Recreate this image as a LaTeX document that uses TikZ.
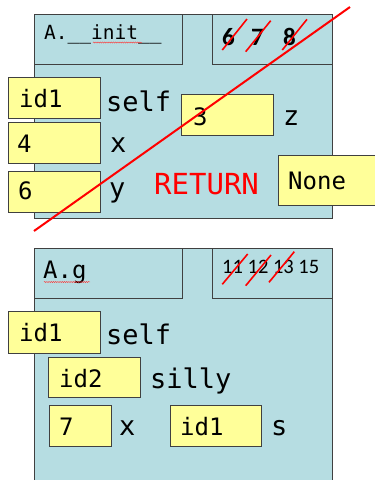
\documentclass[tikz,border=0pt]{standalone}
\usepackage{fontspec}
\newfontfamily\monofont{DejaVu Sans Mono}
\newfontfamily\calfont{Carlito}
\usetikzlibrary{decorations.pathmorphing}
\definecolor{frameblue}{RGB}{182,221,226}
\definecolor{boxyellow}{RGB}{255,255,153}
\definecolor{framegray}{RGB}{64,64,64}
\tikzset{
  frame/.style={draw=framegray, fill=frameblue, line width=0.8pt, inner sep=0pt, anchor=north west},
  valbox/.style={draw=framegray, fill=boxyellow, line width=0.8pt, inner sep=0pt,
                 minimum height=41pt, anchor=north west},
  lbl/.style={anchor=base west, inner sep=0pt, font=\monofont\fontsize{27}{30}\selectfont},
  val/.style={anchor=base west, inner sep=0pt, font=\monofont\fontsize{24}{28}\selectfont},
  strike/.style={draw=red, line width=1.6pt},
  squiggle/.style={draw=red!80, line width=0.4pt,
                   decorate, decoration={snake, amplitude=0.6pt, segment length=2.2pt}}
}
\begin{document}
\begin{tikzpicture}[x=1pt, y=-1pt]
\useasboundingbox (0,0) rectangle (375,480);

% ---------- frame of A.__init__ ----------
\node[frame, minimum width=298pt, minimum height=204pt] (f1) at (34,14) {};
\node[frame, minimum width=148pt, minimum height=50pt] (f1name) at (34,14) {};
\node[frame, minimum width=120pt, minimum height=50pt] (f1lines) at (212,14) {};
\node[anchor=base west, inner sep=0pt, font=\monofont\fontsize{19.5}{22}\selectfont] (f1title) at (44,39) {A.\_\_init\_\_};
\draw[squiggle] (93,42.5) -- (142,42.5);

\node[anchor=base west, inner sep=0pt, font=\calfont\bfseries\fontsize{25}{28}\selectfont] (n6) at (222,45) {6};
\node[anchor=base west, inner sep=0pt, font=\calfont\bfseries\fontsize{25}{28}\selectfont] (n7) at (251,45) {7};
\node[anchor=base west, inner sep=0pt, font=\calfont\bfseries\fontsize{25}{28}\selectfont] (n8) at (283,45) {8};
\draw[strike] (222.3,50) -- (247,19);
\draw[strike] (245.7,51.7) -- (270.7,20.7);
\draw[strike] (282.3,50) -- (307,19.3);

% values and names
\node[valbox, minimum width=92pt] (b1) at (8,77) {};
\node[val] (b1t) at (19,107) {id1};
\node[lbl] (l1) at (106,111) {self};

\node[valbox, minimum width=92pt] (b2) at (8,122) {};
\node[val] (b2t) at (17,152) {4};
\node[lbl] (l2) at (110,152) {x};

\node[valbox, minimum width=92pt] (b3) at (8,171) {};
\node[val] (b3t) at (18,199) {6};
\node[lbl] (l3) at (109,197) {y};

\node[valbox, minimum width=92pt] (b4) at (181,94) {};
\node[val] (b4t) at (193,125) {3};
\node[lbl] (l4) at (283,125) {z};

\node[lbl, text=red, font=\monofont\fontsize{29}{32}\selectfont] (ret) at (154,194) {RETURN};
\node[valbox, minimum width=100pt, minimum height=50pt] (b5) at (278,155) {};
\node[val] (b5t) at (288,189) {None};

% the whole frame is crossed out
\draw[red, line width=2pt] (34,231) -- (350,7);

% ---------- frame of A.g ----------
\node[frame, minimum width=298pt, minimum height=245pt] (f2) at (34,248) {};
\node[frame, minimum width=148pt, minimum height=50pt] (f2name) at (34,248) {};
\node[frame, minimum width=120pt, minimum height=50pt] (f2lines) at (212,248) {};
\node[anchor=base west, inner sep=0pt, font=\monofont\fontsize{24}{28}\selectfont] (f2title) at (43,278) {A.g};
\draw[squiggle] (44,282) -- (90,282);

\node[anchor=base west, inner sep=0pt, font=\calfont\fontsize{20.5}{24}\selectfont] (lines2) at (222,273) {11 12 13 15};
\draw[strike] (222.3,284.3) -- (247.7,254);
\draw[strike] (245.7,285.7) -- (271,255);
\draw[strike] (269,282.3) -- (294.3,251.7);

\node[valbox, minimum width=92pt, minimum height=42pt] (c1) at (8,311) {};
\node[val] (c1t) at (19,341.5) {id1};
\node[lbl] (m1) at (106,344) {self};

\node[valbox, minimum width=92pt, minimum height=40pt] (c2) at (48,357) {};
\node[val] (c2t) at (59,387) {id2};
\node[lbl] (m2) at (150,388) {silly};

\node[valbox, minimum width=62pt] (c3) at (49,405) {};
\node[val] (c3t) at (59,435) {7};
\node[lbl] (m3) at (119,435) {x};

\node[valbox, minimum width=91pt] (c4) at (170,405) {};
\node[val] (c4t) at (180,435) {id1};
\node[lbl] (m4) at (271,435) {s};
\end{tikzpicture}
\end{document}
